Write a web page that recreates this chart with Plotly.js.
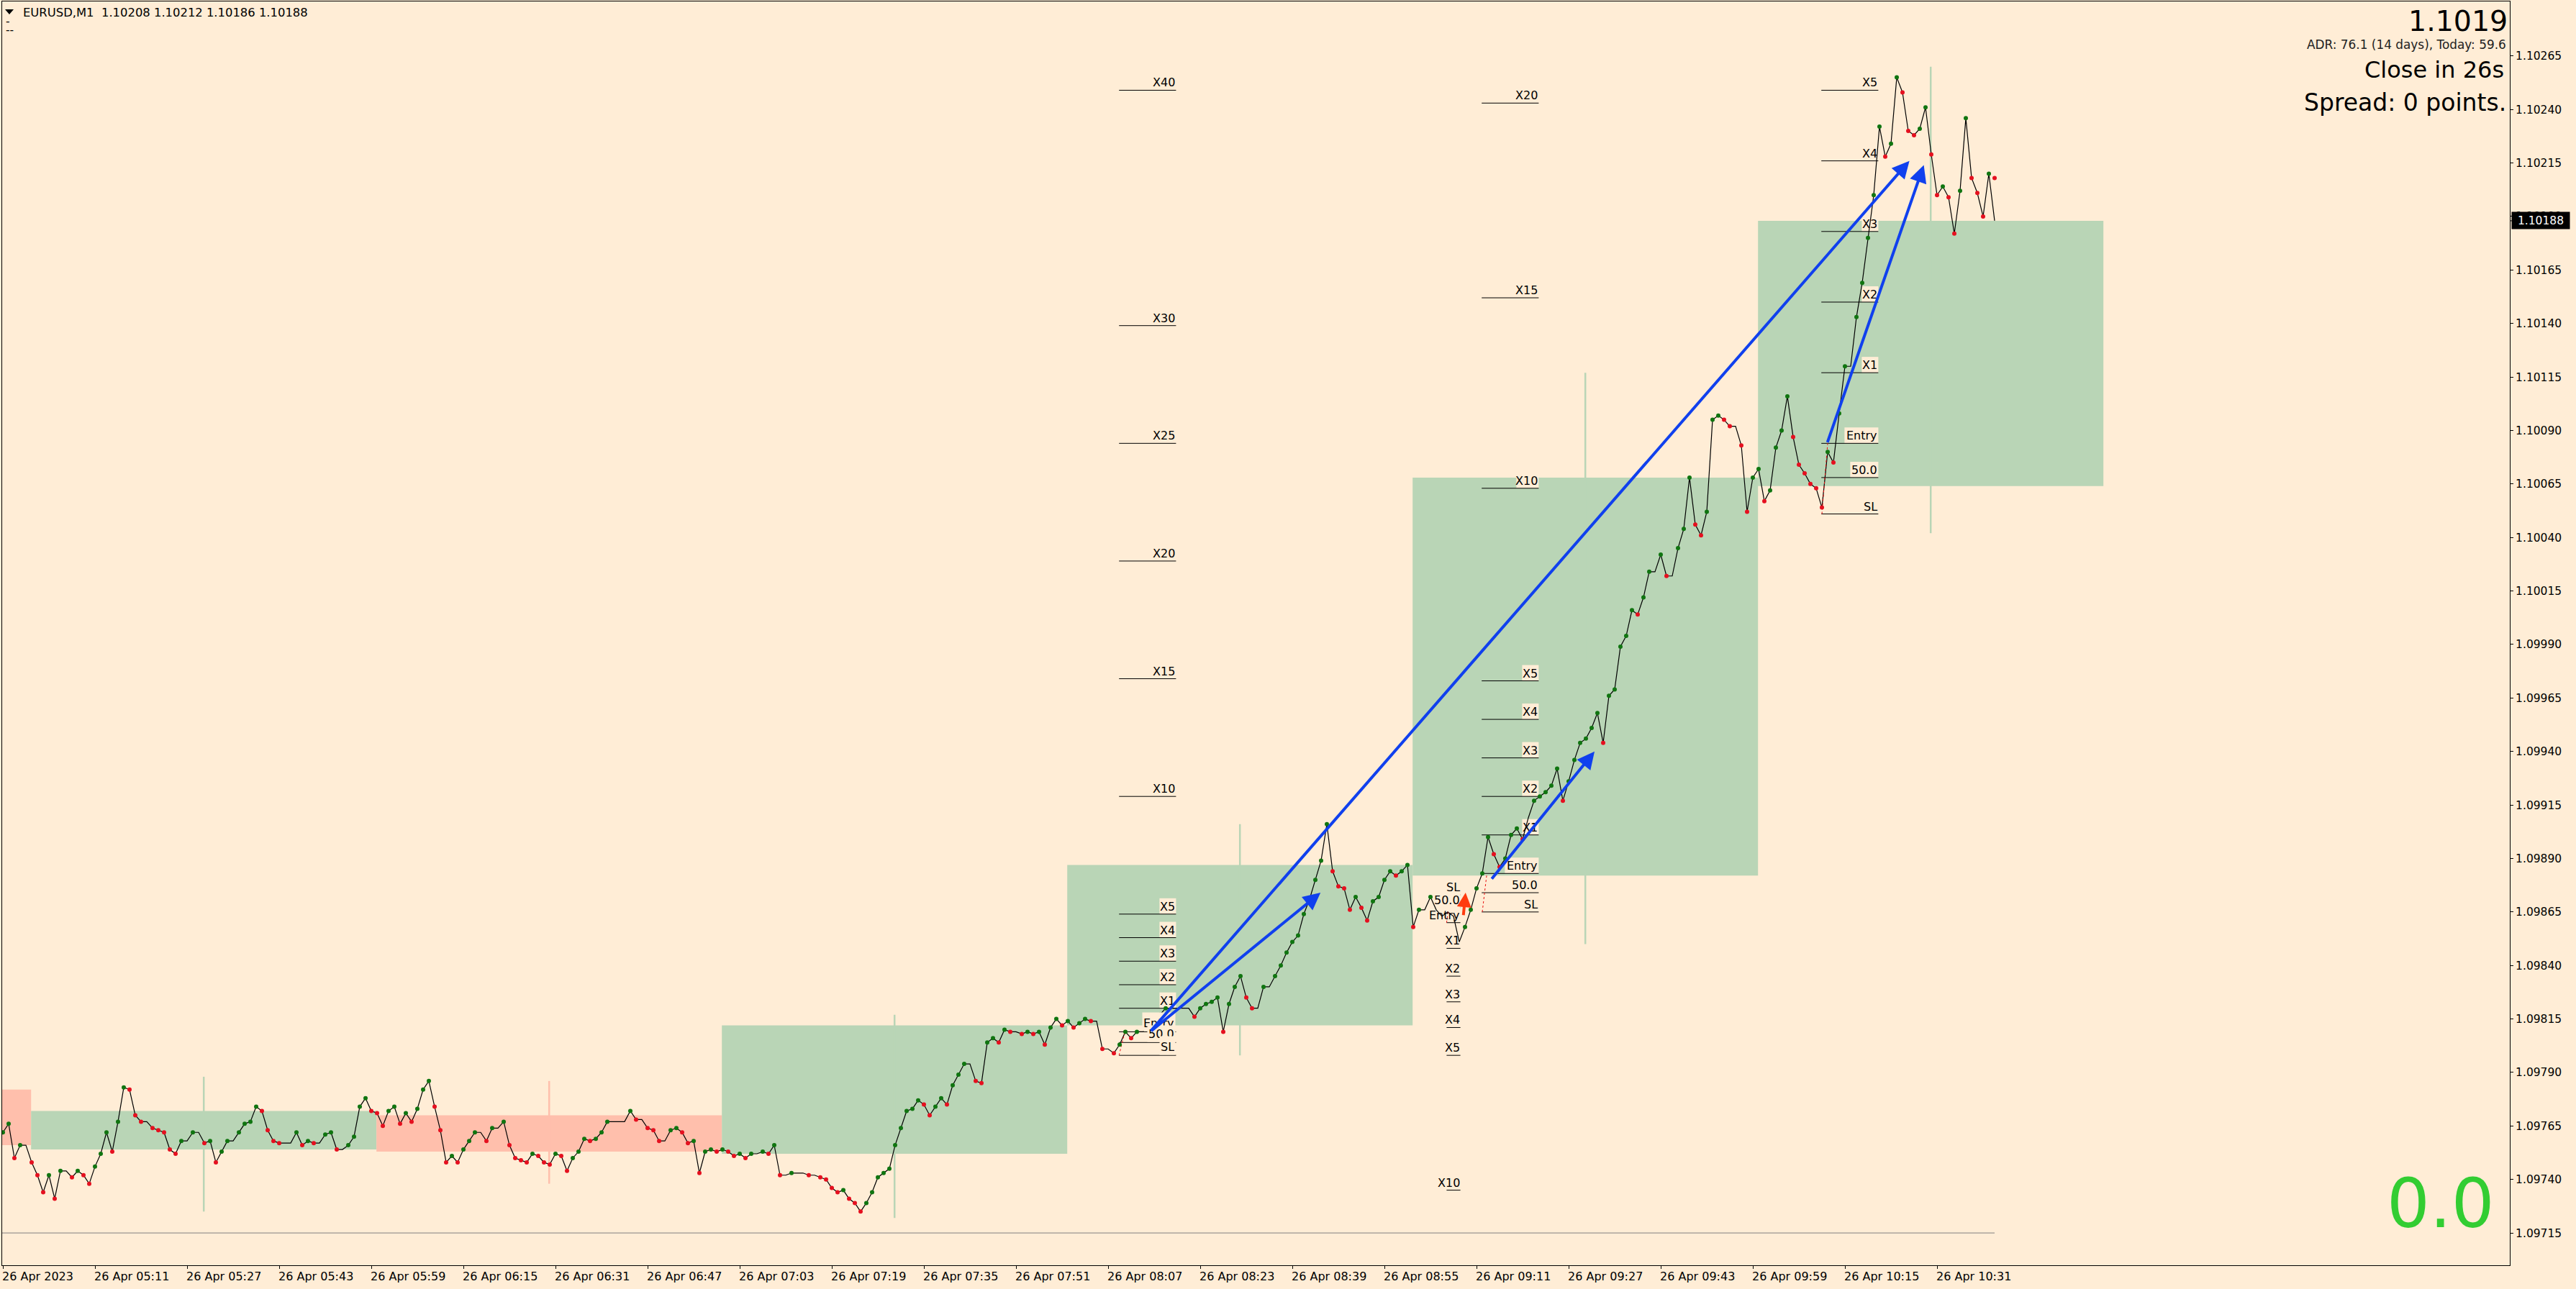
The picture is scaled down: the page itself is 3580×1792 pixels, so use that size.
<!DOCTYPE html>
<html>
<head>
<meta charset="utf-8">
<script src="https://cdn.plot.ly/plotly-3.0.1.min.js"></script>
<style>html,body{margin:0;padding:0;background:#FFEDD6}#chart{width:3580px;height:1792px}</style>
</head>
<body>
<div id="chart"></div>
<script>
// ---- values ----
const closes = [
1.09762,1.09766,1.09750,1.09756,1.09756,1.09748,1.09742,1.09734,1.09742,1.09731,
1.09744,1.09744,1.09741,1.09744,1.09742,1.09738,1.09746,1.09752,1.09762,1.09753,
1.09767,1.09783,1.09782,1.09770,1.09767,1.09767,1.09764,1.09763,1.09762,1.09754,
1.09752,1.09758,1.09758,1.09762,1.09762,1.09757,1.09758,1.09748,1.09753,1.09758,
1.09758,1.09762,1.09766,1.09767,1.09774,1.09772,1.09763,1.09758,1.09757,1.09757,
1.09757,1.09762,1.09756,1.09758,1.09757,1.09757,1.09761,1.09762,1.09754,1.09754,
1.09756,1.09760,1.09774,1.09778,1.09772,1.09771,1.09765,1.09772,1.09774,1.09766,
1.09771,1.09767,1.09773,1.09782,1.09786,1.09774,1.09763,1.09748,1.09751,1.09748,
1.09754,1.09758,1.09762,1.09762,1.09758,1.09764,1.09764,1.09767,1.09756,1.09750,
1.09749,1.09748,1.09752,1.09751,1.09748,1.09747,1.09752,1.09751,1.09744,1.09750,
1.09753,1.09759,1.09758,1.09759,1.09762,1.09767,1.09767,1.09767,1.09767,1.09772,
1.09768,1.09768,1.09764,1.09763,1.09758,1.09758,1.09763,1.09764,1.09762,1.09757,
1.09758,1.09743,1.09753,1.09754,1.09753,1.09754,1.09753,1.09751,1.09752,1.09750,
1.09752,1.09752,1.09753,1.09752,1.09756,1.09742,1.09742,1.09743,1.09743,1.09743,
1.09742,1.09742,1.09741,1.09740,1.09736,1.09734,1.09735,1.09731,1.09729,1.09725,
1.09729,1.09734,1.09741,1.09743,1.09745,1.09756,1.09764,1.09772,1.09773,1.09777,
1.09775,1.09770,1.09774,1.09778,1.09775,1.09784,1.09789,1.09794,1.09794,1.09786,
1.09785,1.09804,1.09806,1.09804,1.09810,1.09809,1.09809,1.09808,1.09809,1.09808,
1.09809,1.09803,1.09811,1.09815,1.09812,1.09814,1.09811,1.09813,1.09815,1.09814,
1.09814,1.09801,1.09801,1.09799,1.09803,1.09809,1.09806,1.09809,1.09809,1.09812,
1.09815,1.09817,1.09820,1.09820,1.09820,1.09820,1.09820,1.09816,1.09820,1.09822,
1.09823,1.09825,1.09809,1.09822,1.09830,1.09835,1.09825,1.09820,1.09820,1.09830,
1.09830,1.09835,1.09840,1.09846,1.09851,1.09854,1.09864,1.09871,1.09880,1.09889,
1.09906,1.09884,1.09877,1.09876,1.09866,1.09872,1.09867,1.09861,1.09870,1.09872,
1.09880,1.09884,1.09882,1.09884,1.09887,1.09858,1.09866,1.09866,1.09872,1.09866,
1.09863,1.09865,1.09863,1.09851,1.09858,1.09866,1.09876,1.09883,1.09900,1.09892,
1.09886,1.09890,1.09901,1.09904,1.09899,1.09909,1.09917,1.09919,1.09921,1.09924,
1.09932,1.09917,1.09926,1.09936,1.09944,1.09946,1.09951,1.09958,1.09944,1.09966,
1.09969,1.09989,1.09994,1.10006,1.10004,1.10012,1.10024,1.10024,1.10032,1.10022,
1.10022,1.10035,1.10044,1.10068,1.10046,1.10041,1.10052,1.10095,1.10097,1.10095,
1.10092,1.10092,1.10083,1.10052,1.10068,1.10072,1.10057,1.10062,1.10082,1.10090,
1.10106,1.10087,1.10074,1.10070,1.10065,1.10063,1.10054,1.10080,1.10075,1.10098,
1.10120,1.10120,1.10143,1.10159,1.10180,1.10200,1.10232,1.10218,1.10224,1.10255,
1.10248,1.10230,1.10228,1.10231,1.10241,1.10219,1.10200,1.10204,1.10199,1.10182,
1.10202,1.10236,1.10208,1.10201,1.10190,1.10210,1.10188];
// 1 = up dot, -1 = down dot, 0 = no visible dot
const direction = [
1,1,-1,1,0,-1,-1,-1,1,-1,
1,0,-1,1,-1,-1,1,1,1,-1,
1,1,-1,-1,-1,0,-1,-1,-1,-1,
-1,1,0,1,0,-1,1,-1,1,1,
0,1,1,1,1,-1,-1,-1,-1,0,
0,1,-1,1,-1,0,1,1,-1,0,
1,1,1,1,-1,-1,-1,1,1,-1,
1,-1,1,1,1,-1,-1,-1,1,-1,
1,1,1,0,-1,1,0,1,-1,-1,
-1,-1,1,-1,-1,-1,1,-1,-1,1,
1,1,-1,1,1,1,0,0,0,1,
-1,0,-1,-1,-1,0,1,1,-1,-1,
1,-1,1,1,-1,1,-1,-1,1,-1,
1,0,1,-1,1,-1,0,1,0,0,
-1,0,-1,-1,-1,-1,1,-1,-1,-1,
1,1,1,1,1,1,1,1,1,1,
-1,-1,1,1,-1,1,1,1,0,-1,
-1,1,1,-1,1,-1,0,-1,1,-1,
1,-1,1,1,-1,1,-1,1,1,-1,
0,-1,0,-1,1,1,-1,1,0,1,
1,1,1,0,0,0,0,-1,1,1,
1,1,-1,1,1,1,-1,-1,0,1,
0,1,1,1,1,1,1,1,1,1,
1,-1,-1,-1,-1,1,-1,-1,1,1,
1,1,-1,1,1,-1,1,0,1,0,
0,0,0,0,1,1,1,1,1,-1,
-1,1,1,1,-1,0,1,1,1,1,
1,-1,1,1,1,1,1,1,-1,1,
1,1,1,1,-1,1,1,0,1,-1,
0,1,1,1,-1,-1,1,1,1,-1,
-1,0,-1,-1,1,1,-1,1,1,1,
1,-1,-1,-1,-1,-1,-1,1,-1,1,
1,0,1,1,1,1,1,-1,1,1,
-1,-1,-1,1,1,-1,-1,1,-1,-1,
1,1,-1,-1,-1,1,0];
const lastBarDot = [346, 1.10208];

const timeLabels = ["26 Apr 2023","26 Apr 05:11","26 Apr 05:27","26 Apr 05:43","26 Apr 05:59","26 Apr 06:15","26 Apr 06:31","26 Apr 06:47","26 Apr 07:03","26 Apr 07:19","26 Apr 07:35","26 Apr 07:51","26 Apr 08:07","26 Apr 08:23","26 Apr 08:39","26 Apr 08:55","26 Apr 09:11","26 Apr 09:27","26 Apr 09:43","26 Apr 09:59","26 Apr 10:15","26 Apr 10:31"];
const timeTickBars = [0,16,32,48,64,80,96,112,128,144,160,176,192,208,224,240,256,272,288,304,320,336];
const priceTicks = [1.09715,1.09740,1.09765,1.09790,1.09815,1.09840,1.09865,1.09890,1.09915,1.09940,1.09965,1.09990,1.10015,1.10040,1.10065,1.10090,1.10115,1.10140,1.10165,1.10190,1.10215,1.10240,1.10265];

// supply/demand zones
const zoneStart  = [-0.2, 4.9, 64.9, 124.9, 184.9, 244.9, 304.9];
const zoneEnd    = [4.9, 64.9, 124.9, 184.9, 244.9, 304.9, 364.9];
const zoneTop    = [1.09782,1.09772,1.09770,1.09812,1.09887,1.10068,1.10188];
const zoneBottom = [1.09756,1.09754,1.09753,1.09752,1.09812,1.09882,1.10064];
const zoneKind   = ["sell","buy","sell","buy","buy","buy","buy"];
// zone wicks (index into same order, skipping the first zone)
const wickBar  = [34.9,94.9,154.9,214.9,274.9,334.9];
const wickHigh = [1.09788,1.09786,1.09817,1.09906,1.10117,1.10260];
const wickLow  = [1.09725,1.09738,1.09722,1.09798,1.09850,1.10042];
const wickKind = ["buy","sell","buy","buy","buy","buy"];

// trade level ladders
const ladderANames  = ["X40","X30","X25","X20","X15","X10","X5","X4","X3","X2","X1"];
const ladderAPrices = [1.10249,1.10139,1.10084,1.10029,1.09974,1.09919,1.09864,1.09853,1.09842,1.09831,1.09820];
const ladderAOverlapNames  = ["Entry","50.0","SL"];
const ladderAOverlapPrices = [1.09809,1.09804,1.09798];
const ladderASpan = [193.9,203.8];
const ladderBNames  = ["SL","50.0","Entry","X1","X2","X3","X4","X5","X10"];
const ladderBPrices = [1.09873,1.09867,1.09860,1.09848,1.09835,1.09823,1.09811,1.09798,1.09735];
const ladderBSpan = [250.8,253.2];
const ladderCNames  = ["SL","50.0","Entry","X1","X2","X3","X4","X5","X10","X15","X20"];
const ladderCPrices = [1.09865,1.09874,1.09883,1.09901,1.09919,1.09937,1.09955,1.09973,1.10063,1.10152,1.10243];
const ladderCSpan = [256.9,266.8];
const ladderDNames  = ["SL","50.0","Entry","X1","X2","X3","X4","X5"];
const ladderDPrices = [1.10051,1.10068,1.10084,1.10117,1.10150,1.10183,1.10216,1.10249];
const ladderDSpan = [315.9,325.8];

// blue arrows: from [bar, price] to [bar, price]
const arrowFromBar   = [199.3,199.3,258.5,316.9];
const arrowFromPrice = [1.09809,1.09809,1.09880,1.10084];
const arrowToBar     = [331.2,228.9,276.5,333.7];
const arrowToPrice   = [1.10216,1.09874,1.09940,1.10214];
// red trade stems
const stemBars   = [[193.9,194.9],[250.8,251.1],[257,257.8],[316,317]];
const stemPrices = [[1.09798,1.09809],[1.09860,1.09866],[1.09865,1.09883],[1.10051,1.10084]];

// ---- layout constants ----
const W=3580,H=1792,ML=3,MR=92,MT=2,MB=33;
const BG="#FFEDD6",BUY="#B9D5B6",SELL="#FFBFAC",FONT="DejaVu Sans";
const pxX=p=>(p-ML)/(W-ML-MR), pxY=p=>1-(p-MT)/(H-MT-MB);
const zoneColor=k=>k==="buy"?BUY:SELL;

const bars = closes.map((_,i)=>i);
const idx = d => bars.filter(i=>direction[i]===d);
const traces = [
 {x:bars,y:closes,mode:"lines",line:{color:"#000",width:1.2},hoverinfo:"skip",showlegend:false},
];
stemBars.forEach((b,i)=>traces.push({x:b,y:stemPrices[i],mode:"lines",line:{color:"#E81010",width:1,dash:"dot"},hoverinfo:"skip",showlegend:false}));
traces.push(
 {x:idx(1),y:idx(1).map(i=>closes[i]),mode:"markers",marker:{color:"#107510",size:6},hoverinfo:"skip",showlegend:false},
 {x:idx(-1),y:idx(-1).map(i=>closes[i]),mode:"markers",marker:{color:"#E5101F",size:6},hoverinfo:"skip",showlegend:false},
 {x:[lastBarDot[0]],y:[lastBarDot[1]],mode:"markers",marker:{color:"#E5101F",size:6},hoverinfo:"skip",showlegend:false}
);

const shapes=[];
zoneStart.forEach((s,i)=>shapes.push({type:"rect",layer:"below",xref:"x",yref:"y",x0:s,x1:zoneEnd[i],y0:zoneBottom[i],y1:zoneTop[i],fillcolor:zoneColor(zoneKind[i]),line:{width:0}}));
wickBar.forEach((b,i)=>shapes.push({type:"line",layer:"below",xref:"x",yref:"y",x0:b,x1:b,y0:wickLow[i],y1:wickHigh[i],line:{color:zoneColor(wickKind[i]),width:2.5}}));
shapes.push({type:"line",layer:"below",xref:"x",yref:"y",x0:-0.2,x1:346,y0:1.09715,y1:1.09715,line:{color:"#808080",width:1}});
// small triangle next to the symbol
shapes.push({type:"path",xref:"paper",yref:"paper",path:`M ${pxX(7)} ${pxY(13)} L ${pxX(19)} ${pxY(13)} L ${pxX(13)} ${pxY(20)} Z`,fillcolor:"#000",line:{width:0}});
// tag tick
shapes.push({type:"line",xref:"paper",yref:"y",x0:1,x1:pxX(3491),y0:1.10188,y1:1.10188,line:{color:"#000",width:1}});

const annotations=[];
const txt=(text,x,y,size,color,anchor)=>annotations.push({xref:"paper",yref:"paper",x:pxX(x),y:pxY(y),text,showarrow:false,xanchor:anchor||"right",yanchor:"middle",font:{family:FONT,size,color:color||"#000"},borderpad:0});

function ladder(names,prices,span){
  names.forEach((n,i)=>{
    const w=8*n.length+7;
    shapes.push({type:"rect",layer:"below",xref:"pixel",yref:"pixel",xsizemode:"pixel",ysizemode:"pixel",xanchor:span[1],yanchor:prices[i],x0:-w,x1:0,y0:0,y1:22,fillcolor:BG,line:{width:0}});
    shapes.push({type:"line",layer:"below",xref:"x",yref:"y",x0:span[0],x1:span[1],y0:prices[i],y1:prices[i],line:{color:"#000",width:1}});
    annotations.push({xref:"x",yref:"y",x:span[1],y:prices[i],text:n,showarrow:false,xanchor:"right",yanchor:"bottom",font:{family:FONT,size:16,color:"#000"},borderpad:1,borderwidth:0});
  });
}
ladder(ladderANames,ladderAPrices,ladderASpan);
ladder(ladderBNames,ladderBPrices,ladderBSpan);
ladder(ladderCNames,ladderCPrices,ladderCSpan);
ladder(ladderDNames,ladderDPrices,ladderDSpan);
const overlapHeights=[23,20,23];
ladderAOverlapNames.forEach((n,i)=>{
  const p=ladderAOverlapPrices[i];
  shapes.push({type:"line",layer:"below",xref:"x",yref:"y",x0:ladderASpan[0],x1:ladderASpan[1],y0:p,y1:p,line:{color:"#000",width:1}});
  annotations.push({xref:"x",yref:"y",x:ladderASpan[1],y:p,text:n,showarrow:false,xanchor:"right",yanchor:"bottom",valign:"bottom",height:overlapHeights[i],font:{family:FONT,size:16,color:"#000"},bgcolor:BG,borderpad:1});
});

// red up arrow
annotations.push({xref:"x",yref:"y",axref:"x",ayref:"y",x:254.1,y:1.09874,ax:253.7,ay:1.09863,text:"",showarrow:true,arrowhead:2,arrowsize:1,arrowwidth:4,arrowcolor:"#FF3B0F",standoff:0});
// blue arrows
arrowToBar.forEach((b,i)=>annotations.push({xref:"x",yref:"y",axref:"x",ayref:"y",x:b,y:arrowToPrice[i],ax:arrowFromBar[i],ay:arrowFromPrice[i],text:"",showarrow:true,arrowhead:2,arrowsize:1.2,arrowwidth:4,arrowcolor:"#1040EE",standoff:0}));

// header / panel texts
annotations.push({xref:"paper",yref:"paper",x:pxX(31),y:pxY(17),text:"EURUSD,M1  1.10208 1.10212 1.10186 1.10188",showarrow:false,xanchor:"left",yanchor:"middle",font:{family:FONT,size:16.4,color:"#000"},borderpad:0});
annotations.push({xref:"paper",yref:"paper",x:pxX(7),y:pxY(30),text:"-",showarrow:false,xanchor:"left",yanchor:"middle",font:{family:FONT,size:15.5,color:"#000"},borderpad:0});
annotations.push({xref:"paper",yref:"paper",x:pxX(7),y:pxY(42),text:"--",showarrow:false,xanchor:"left",yanchor:"middle",font:{family:FONT,size:15.5,color:"#000"},borderpad:0});
txt("1.1019",3486,29,39.5);
txt("ADR: 76.1 (14 days), Today: 59.6",3484,62,16.9,"#222");
txt("Close in 26s",3481,97,32);
txt("Spread: 0 points.",3484,143,33);
txt("0.0",3468,1673,94,"#32CD32");
// last price tag
annotations.push({xref:"paper",yref:"y",x:pxX(3490),y:1.10188,xanchor:"left",yanchor:"middle",text:"1.10188",showarrow:false,bgcolor:"#000",width:80,height:23,font:{family:FONT,size:15.5,color:"#fff"},borderpad:0});

const layout={
 width:W,height:H,paper_bgcolor:BG,plot_bgcolor:BG,showlegend:false,
 margin:{l:ML,r:MR,t:MT,b:MB,pad:0},
 font:{family:FONT,color:"#000"},
 xaxis:{range:[-0.125,435.5],showgrid:false,zeroline:false,showline:true,linecolor:"#000",linewidth:1,mirror:true,
   tickmode:"array",tickvals:timeTickBars,ticktext:timeLabels,ticks:"outside",ticklen:4,tickcolor:"#000",tickwidth:1,
   ticklabelposition:"outside right",ticklabelshift:-2,ticklabelstandoff:1,tickangle:0,tickfont:{family:FONT,size:16,color:"#000"}},
 yaxis:{side:"right",range:[1.096999,1.102905],showgrid:false,zeroline:false,showline:true,linecolor:"#000",linewidth:1,mirror:true,
   tickmode:"array",tickvals:priceTicks,tickformat:".5f",ticks:"outside",ticklen:4,tickcolor:"#000",tickwidth:1,
   tickfont:{family:FONT,size:15.5,color:"#000"}},
 shapes,annotations
};
Plotly.newPlot("chart",traces,layout,{displayModeBar:false,staticPlot:true});
</script>
</body>
</html>
